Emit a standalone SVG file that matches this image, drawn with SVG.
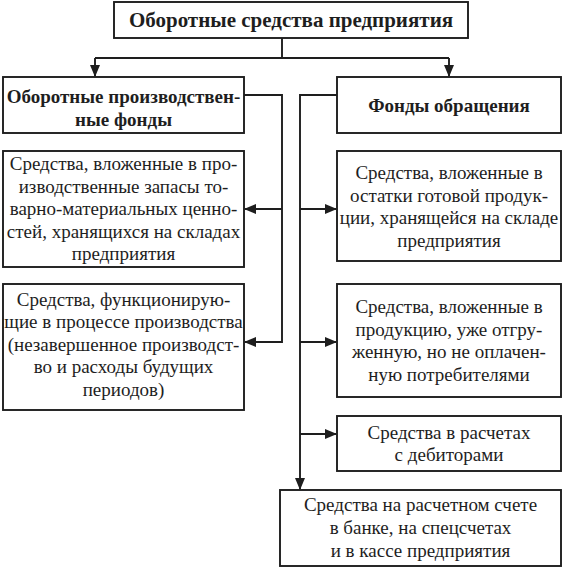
<svg xmlns="http://www.w3.org/2000/svg" width="563" height="567" viewBox="0 0 563 567">
<style>
.box{fill:#fff;stroke:#1e1e1e;stroke-width:1.9}
.t{font-family:"Liberation Serif","Times New Roman",serif;font-size:19px;fill:#1e1e1e;text-anchor:middle}
.b{font-weight:bold;font-size:19px}
.h{font-size:21px}
.c{fill:none;stroke:#1e1e1e;stroke-width:1.9}
</style>
<defs>
<marker id="ah" markerWidth="12" markerHeight="10" refX="11" refY="5" orient="auto" markerUnits="userSpaceOnUse">
<path d="M0,0 L12,5 L0,10 Z" fill="#1e1e1e"/>
</marker>
</defs>
<rect width="563" height="567" fill="#fff"/>
<g id="connectors">
<path class="c" d="M282,38 V58"/>
<path class="c" d="M95,58 H449"/>
<path class="c" d="M95,58 V76" marker-end="url(#ah)"/>
<path class="c" d="M449,58 V76" marker-end="url(#ah)"/>
<path class="c" d="M244,95 H282 V342 H245" marker-end="url(#ah)"/>
<path class="c" d="M282,209 H245" marker-end="url(#ah)"/>
<path class="c" d="M337,95 H300 V489" marker-end="url(#ah)"/>
<path class="c" d="M300,209 H336" marker-end="url(#ah)"/>
<path class="c" d="M300,342 H336" marker-end="url(#ah)"/>
<path class="c" d="M300,434 H336" marker-end="url(#ah)"/>
</g>
<g id="root">
<rect class="box" x="114" y="2" width="354" height="36"/>
<text class="t b h" x="291" y="27">Оборотные средства предприятия</text>
</g>
<g id="prod">
<rect class="box" x="3" y="77" width="241" height="56"/>
<text class="t b" x="123.5" y="103">Оборотные производствен-</text>
<text class="t b" x="123.5" y="126">ные фонды</text>
</g>
<g id="circ">
<rect class="box" x="337" y="77" width="224" height="56"/>
<text class="t b" x="449" y="112">Фонды обращения</text>
</g>
<g id="p1">
<rect class="box" x="3" y="151" width="241" height="116"/>
<text class="t" x="123.5" y="170">Средства, вложенные в про-</text>
<text class="t" x="123.5" y="192.5">изводственные запасы то-</text>
<text class="t" x="123.5" y="215">варно-материальных ценно-</text>
<text class="t" x="123.5" y="237.5">стей, хранящихся на складах</text>
<text class="t" x="123.5" y="260">предприятия</text>
</g>
<g id="p2">
<rect class="box" x="3" y="284" width="241" height="126"/>
<text class="t" x="123.5" y="305.5">Средства, функционирую-</text>
<text class="t" x="123.5" y="328">щие в процессе производства</text>
<text class="t" x="123.5" y="350.5">(незавершенное производст-</text>
<text class="t" x="123.5" y="373">во и расходы будущих</text>
<text class="t" x="123.5" y="395.5">периодов)</text>
</g>
<g id="c1">
<rect class="box" x="337" y="151" width="224" height="110"/>
<text class="t" x="449" y="179">Средства, вложенные в</text>
<text class="t" x="449" y="201.5">остатки готовой продук-</text>
<text class="t" x="449" y="224">ции, хранящейся на складе</text>
<text class="t" x="449" y="246.5">предприятия</text>
</g>
<g id="c2">
<rect class="box" x="337" y="284" width="224" height="113"/>
<text class="t" x="449" y="313">Средства, вложенные в</text>
<text class="t" x="449" y="335.5">продукцию, уже отгру-</text>
<text class="t" x="449" y="358">женную, но не оплачен-</text>
<text class="t" x="449" y="380.5">ную потребителями</text>
</g>
<g id="c3">
<rect class="box" x="337" y="416" width="224" height="55"/>
<text class="t" x="449" y="438.5">Средства в расчетах</text>
<text class="t" x="449" y="461">с дебиторами</text>
</g>
<g id="c4">
<rect class="box" x="280" y="490" width="281" height="76"/>
<text class="t" x="420.5" y="511">Средства на расчетном счете</text>
<text class="t" x="420.5" y="534">в банке, на спецсчетах</text>
<text class="t" x="420.5" y="557">и в кассе предприятия</text>
</g>
</svg>
